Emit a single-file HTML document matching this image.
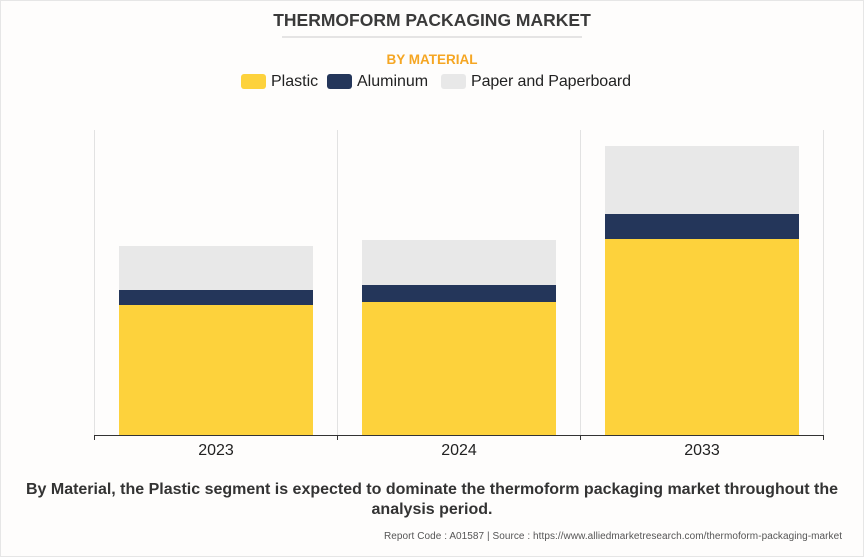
<!DOCTYPE html>
<html><head><style>
body{margin:0;background:#fff;}
svg{display:block;font-family:"Liberation Sans",Arial,sans-serif;}
</style></head><body>
<svg width="864" height="557" viewBox="0 0 864 557" xmlns="http://www.w3.org/2000/svg">
<rect x="0.5" y="0.5" width="863" height="556" fill="#fefdfc" stroke="#e6e6e6"/>
<text x="432" y="26" text-anchor="middle" font-size="17.5" font-weight="bold" fill="#3a3a3a">THERMOFORM PACKAGING MARKET</text>
<line x1="282" y1="37" x2="582" y2="37" stroke="#cccccc" stroke-width="1"/>
<text x="432" y="64" text-anchor="middle" font-size="13.5" font-weight="bold" fill="#f5a623">BY MATERIAL</text>
<rect x="241" y="74" width="25" height="15" rx="3" fill="#fdd23c"/>
<text x="271" y="86" font-size="16" fill="#222">Plastic</text>
<rect x="327" y="74" width="25" height="15" rx="3" fill="#24365a"/>
<text x="357" y="86" font-size="16" fill="#222">Aluminum</text>
<rect x="441" y="74" width="25" height="15" rx="3" fill="#e8e8e8"/>
<text x="471" y="86" font-size="16" fill="#222" textLength="160">Paper and Paperboard</text>
<g stroke="#e2e2e2" stroke-width="1">
<line x1="94.5" y1="130" x2="94.5" y2="435"/>
<line x1="337.5" y1="130" x2="337.5" y2="435"/>
<line x1="580.5" y1="130" x2="580.5" y2="435"/>
<line x1="823.5" y1="130" x2="823.5" y2="435"/>
</g>
<rect x="119" y="246" width="194" height="44" fill="#e8e8e8"/>
<rect x="119" y="290" width="194" height="15" fill="#24365a"/>
<rect x="119" y="305" width="194" height="130" fill="#fdd23c"/>
<rect x="362" y="240" width="194" height="45" fill="#e8e8e8"/>
<rect x="362" y="285" width="194" height="17" fill="#24365a"/>
<rect x="362" y="302" width="194" height="133" fill="#fdd23c"/>
<rect x="605" y="146" width="194" height="68" fill="#e8e8e8"/>
<rect x="605" y="214" width="194" height="25" fill="#24365a"/>
<rect x="605" y="239" width="194" height="196" fill="#fdd23c"/>
<g stroke="#333" stroke-width="1">
<line x1="94" y1="435.5" x2="824" y2="435.5"/>
<line x1="94.5" y1="435" x2="94.5" y2="440"/>
<line x1="337.5" y1="435" x2="337.5" y2="440"/>
<line x1="580.5" y1="435" x2="580.5" y2="440"/>
<line x1="823.5" y1="435" x2="823.5" y2="440"/>
</g>
<g font-size="16" fill="#222" text-anchor="middle">
<text x="216" y="455">2023</text>
<text x="459" y="455">2024</text>
<text x="702" y="455">2033</text>
</g>
<text x="432" y="494" text-anchor="middle" font-size="16" font-weight="bold" fill="#333" textLength="812">By Material, the Plastic segment is expected to dominate the thermoform packaging market throughout the</text>
<text x="432" y="514" text-anchor="middle" font-size="16" font-weight="bold" fill="#333">analysis period.</text>
<text x="842" y="539" text-anchor="end" font-size="10" fill="#555" textLength="458">Report Code : A01587  |  Source : https://www.alliedmarketresearch.com/thermoform-packaging-market</text>
</svg>
</body></html>
